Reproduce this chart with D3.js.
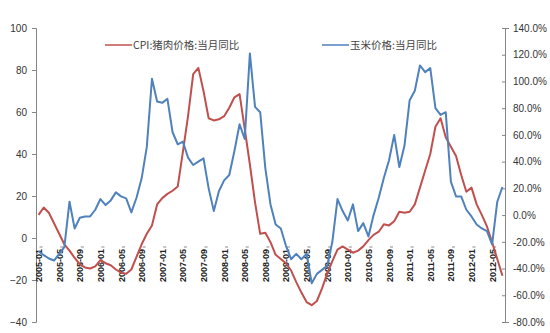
<!DOCTYPE html>
<html><head><meta charset="utf-8">
<script src="https://cdn.jsdelivr.net/npm/d3@7"></script>
<style>body{margin:0;background:#fff}svg{display:block}</style>
</head><body>
<svg id="c" width="550" height="333"></svg>
<script>
// Categories: monthly from 2005-01 to 2012-07
const months = d3.timeMonth.range(new Date(2005,0,1), new Date(2012,7,1)).map(d3.timeFormat("%Y-%m"));
const tickEvery = 4;
const leftTicks = [-40,-20,0,20,40,60,80,100];
const rightTicks = [-80,-60,-40,-20,0,20,40,60,80,100,120,140];
const seriesNames = ["CPI:猪肉价格:当月同比", "玉米价格:当月同比"];
// CPI pork price YoY (left axis)
const pork = [11,14.5,12,7,2,-3,-6,-9.5,-12.5,-14,-14.5,-13.5,-10.5,-12,-13,-15,-16.5,-17,-15,-9,-3,2,6,16,
  19,21,22.5,24.5,41,58,78,81,70,57,56,56.5,58,62,67,68.5,52,35,17,2,2.5,-2,-8,
  -10,-12,-15.5,-21,-26,-30.5,-32,-30,-24,-17,-11,-5.5,-4,-5.5,-7,-6,-4,-1,1.5,3,6.5,6,
  8,12.5,12,12.5,16,24,32,40,53,57,48,43.5,39,30,22,24,16,11,5.5,-2,-10,-18];
// Corn price YoY (right axis, %)
const corn = [-27,-30,-32.5,-34,-29,-24,10,-10,-2,-1,-1,4,12,7.5,11,17,14,12.5,2,13,27.5,51,102,85,
  84,87,62,53,55,43,37.5,40,42.5,20,3,18,26,30,48,68,57,121,81,77,35,8,-7,
  -10,-23,-33,-29,-33,-29,-51,-44,-41,-38,-20,12,3,-4,8,-12,-6,-16,0,13,28,41,
  60,36,52,86,93,112,107,110,80,75,77,25,14,14,4,-1,-7,-10,-12,-22,10,21];

const colors = ["#C0504D", "#4F81BD"];
const svg = d3.select("#c");
const L = 36, R = 505, T = 28, B = 322;

const x = d3.scalePoint().domain(months).range([L, R]).padding(0.5);
const yL = d3.scaleLinear().domain([-40, 100]).range([B, T]);
const yR = d3.scaleLinear().domain([-80, 140]).range([B, T]);

const axisColor = "#868686";
// left axis
const gl = svg.append("g").attr("transform", `translate(${L},0)`)
  .call(d3.axisLeft(yL).tickValues(leftTicks).tickSize(4).tickPadding(5).tickFormat(d3.format("d")));
// right axis
const gr = svg.append("g").attr("transform", `translate(${R},0)`)
  .call(d3.axisRight(yR).tickValues(rightTicks).tickSize(4).tickPadding(4).tickFormat(d => d.toFixed(1) + "%"));
[gl, gr].forEach(g => {
  g.select(".domain").attr("stroke", axisColor);
  g.selectAll(".tick line").attr("stroke", axisColor);
  g.selectAll("text").attr("fill", "#333").style("font-family", "Liberation Sans, Arial, sans-serif").style("font-size", "10px");
});
gr.selectAll(".tick line").attr("x1", -3).attr("x2", 1);

// x axis labels (at zero of left axis)
const y0 = yL(0);
const gx = svg.append("g").attr("transform", `translate(0,${y0})`);
const tickMonths = months.filter((m, i) => i % tickEvery === 0);
gx.selectAll("line.tk").data(tickMonths).join("line").attr("class", "tk")
  .attr("x1", d => x(d) + 1).attr("x2", d => x(d) + 4)
  .attr("y1", 9).attr("y2", 9).attr("stroke", "#888");
gx.selectAll("text").data(tickMonths).join("text")
  .attr("transform", d => `translate(${x(d) + 3.5},11) rotate(-90)`)
  .attr("text-anchor", "end")
  .style("font-family", "Liberation Sans, Arial, sans-serif")
  .style("font-size", "9px").style("font-weight", "bold")
  .attr("fill", "#222")
  .text(d => d);

// lines
const lineL = d3.line().x((d, i) => x(months[i])).y(d => yL(d));
const lineR = d3.line().x((d, i) => x(months[i])).y(d => yR(d));
svg.append("path").datum(pork).attr("d", lineL).attr("fill", "none")
  .attr("stroke", colors[0]).attr("stroke-width", 2).attr("stroke-linejoin", "round");
svg.append("path").datum(corn).attr("d", lineR).attr("fill", "none")
  .attr("stroke", colors[1]).attr("stroke-width", 2).attr("stroke-linejoin", "round");

// legend
const legendX = [105, 322];
seriesNames.forEach((name, i) => {
  const g = svg.append("g").attr("transform", `translate(${legendX[i]},45)`);
  g.append("line").attr("x1", 0).attr("x2", 27).attr("stroke", colors[i]).attr("stroke-width", 1.5);
  g.append("text").attr("x", 28).attr("y", 4)
    .style("font-family", "Noto Sans CJK SC, sans-serif").style("font-size", "10.5px")
    .attr("fill", "#444").text(name);
});
</script>
</body></html>
